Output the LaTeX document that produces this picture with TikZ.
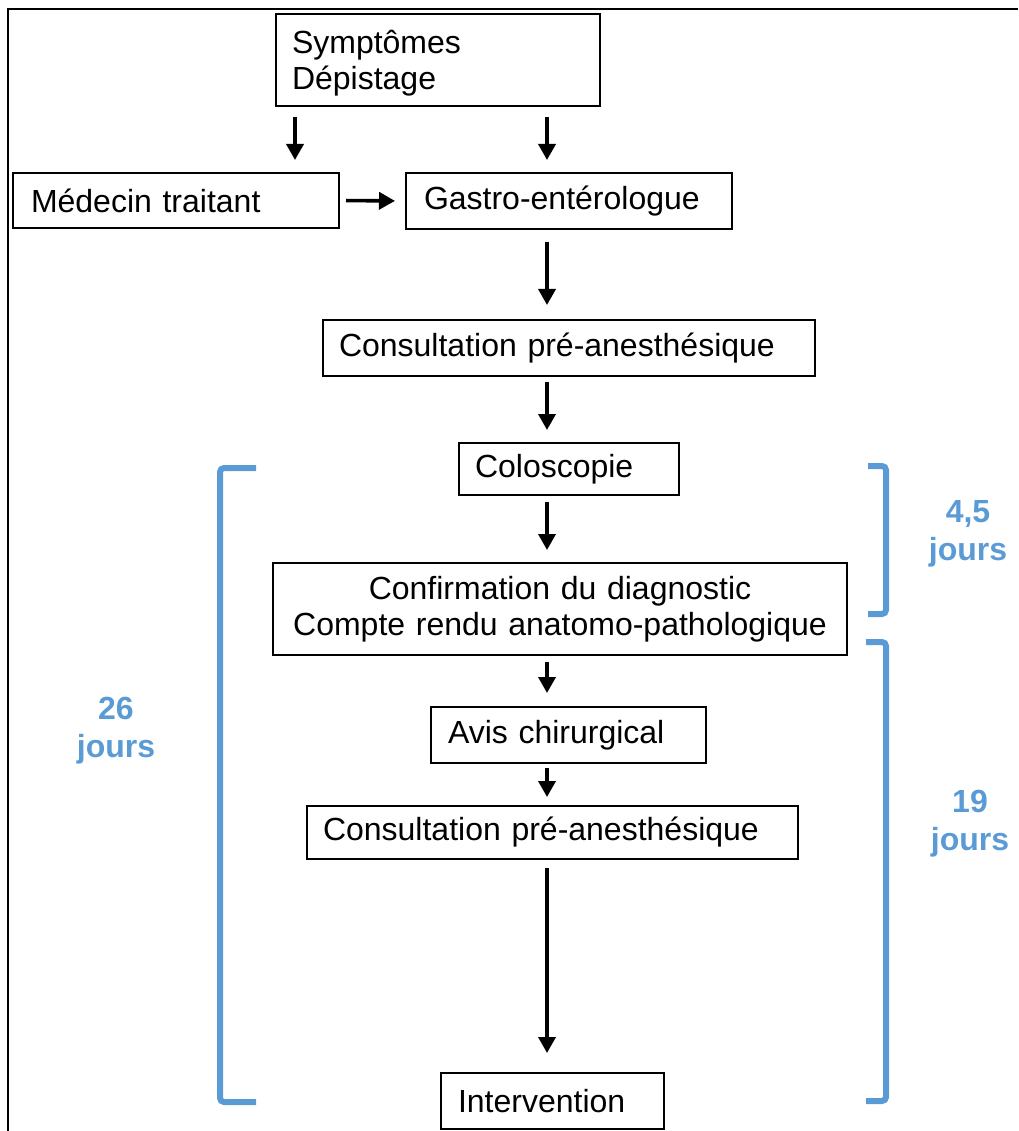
\documentclass[tikz,border=0pt]{standalone}
\usepackage{fontspec}
\setmainfont{Liberation Sans}
\usetikzlibrary{arrows.meta}
\definecolor{bracketblue}{RGB}{91,155,213}
\begin{document}
\begin{tikzpicture}[x=1pt,y=-1pt,
  every node/.style={font=\fontsize{32}{36}\selectfont},
  stepbox/.style={draw,line width=2pt,fill=white,anchor=north west,
    inner xsep=16pt,inner ysep=0pt,align=left},
  arr/.style={line width=3.6pt,-{Triangle[width=17pt,length=16pt]}},
  brace/.style={draw=bracketblue,line width=6pt,rounded corners=4pt},
  days/.style={text=bracketblue,font=\fontsize{32}{38}\selectfont\bfseries,align=center}]

% page size and outer frame
\useasboundingbox (0,0) rectangle (1018,1131);
\draw[line width=2.2pt] (8,1131) -- (8,9) -- (1018,9);

% process boxes
\node[stepbox,text width=292pt,minimum height=92pt,inner xsep=16pt] (sym) at (275,13)
  {\raisebox{-3pt}[\height][\depth]{\parbox{292pt}{Symptômes\\Dépistage}}};
\node[stepbox,text width=290pt,minimum height=55pt,inner xsep=18pt] (med) at (12,172) {Médecin traitant};
\node[stepbox,text width=290pt,minimum height=56pt,inner xsep=18pt] (gas) at (405,172) {Gastro-entérologue};
\node[stepbox,text width=460pt,minimum height=56pt] (con1) at (322,319) {Consultation pré-anesthésique};
\node[stepbox,text width=188pt,minimum height=52pt] (colo) at (458,442) {Coloscopie};
\node[stepbox,text width=542pt,minimum height=92pt,align=center] (conf) at (272,562) {Confirmation du diagnostic\\Compte rendu anatomo-pathologique};
\node[stepbox,text width=241pt,minimum height=56pt,inner xsep=17pt] (avis) at (430,706) {Avis chirurgical};
\node[stepbox,text width=459pt,minimum height=53pt] (con2) at (306,805) {Consultation pré-anesthésique};
\node[stepbox,text width=189pt,minimum height=56pt,inner xsep=17pt] (int) at (440,1072) {Intervention};

% arrows
\coordinate (ax) at (547,0);
\coordinate (lx) at (295,0);
\draw[arr,shorten <=10pt,shorten >=12pt] (lx |- sym.south) -- (lx |- med.north);
\draw[arr,shorten <=10pt,shorten >=12pt] (ax |- sym.south) -- (ax |- gas.north);
\draw[arr,shorten <=6pt,shorten >=10pt] (med.east) -- (gas.west);
\draw[arr,shorten <=12pt,shorten >=14pt] (ax |- gas.south) -- (ax |- con1.north);
\draw[arr,shorten <=5pt,shorten >=12pt] (ax |- con1.south) -- (ax |- colo.north);
\draw[arr,shorten <=6pt,shorten >=12pt] (ax |- colo.south) -- (ax |- conf.north);
\draw[arr,shorten <=6pt,shorten >=13pt] (ax |- conf.south) -- (ax |- avis.north);
\draw[arr,shorten <=4pt,shorten >=8pt] (ax |- avis.south) -- (ax |- con2.north);
\draw[arr,shorten <=8pt,shorten >=19pt] (ax |- con2.south) -- (ax |- int.north);

% duration brackets
\draw[brace] (256,468) -- (220,468) -- (220,1102) -- (256,1102);
\draw[brace] (868,466) -- (886,466) -- (886,614) -- (868,614);
\draw[brace] (866,642) -- (886,642) -- (886,1101) -- (866,1101);

\node[days] (d1) at (116,731) {26\\jours};
\node[days] (d2) at (968,534) {4,5\\jours};
\node[days] (d3) at (970,824) {19\\jours};
\end{tikzpicture}
\end{document}
